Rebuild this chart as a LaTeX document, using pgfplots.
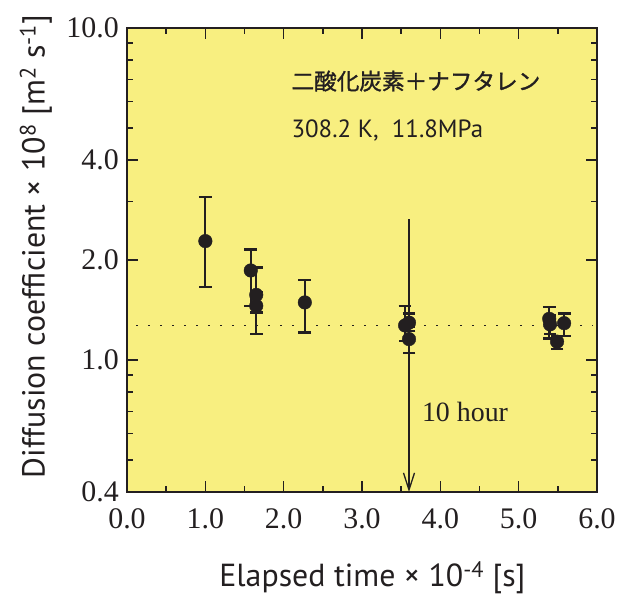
\documentclass[border=0pt]{standalone}
\usepackage{fontspec}
\setmainfont{Liberation Serif}
\newfontfamily\labelfont{PT Sans}
\newfontfamily\jpfont[FakeBold=1.2]{Noto Sans CJK JP}
\usepackage{pgfplots}
\pgfplotsset{compat=1.18}
\usetikzlibrary{arrows.meta}
\definecolor{bgyellow}{RGB}{248,239,128}
\definecolor{ink}{RGB}{35,31,32}

\pgfplotstableread{
x     y      ep     em
1.00  2.28   0.81   0.625
1.58  1.86   0.29   0.405
1.65  1.57   0.33   0.18
1.65  1.455  0.145  0.255
2.27  1.49   0.25   0.28
3.55  1.27   0.18   0.13
3.60  1.295  0.085  0.075
3.60  1.155  0.105  0.105
5.39  1.33   0.11   0.17
5.40  1.28   0.08   0.08
5.49  1.135  0.045  0.055
5.58  1.29   0.09   0.11
}\datatable

\begin{document}
\begin{tikzpicture}
\begin{axis}[
  scale only axis, width=470bp, height=464bp,
  xmin=0, xmax=6, ymin=0.4, ymax=10, ymode=log,
  axis background/.style={fill=bgyellow},
  axis line style={line width=1.8bp, ink},
  xtick={0,1,2,3,4,5,6},
  xticklabels={0.0,1.0,2.0,3.0,4.0,5.0,6.0},
  minor xtick={0.5,1.5,2.5,3.5,4.5,5.5},
  ytick={0.4,1,2,4,10},
  yticklabels={0.4,1.0,2.0,4.0,10.0},
  minor ytick={0.5,0.6,0.7,0.8,0.9,3,5,6,7,8,9},
  tick align=inside,
  major tick length=11bp, minor tick length=6bp,
  every tick/.style={ink, line width=1.4bp},
  tick label style={font=\fontsize{30}{36}\selectfont, text=ink},
  xticklabel style={anchor=base, yshift=-37bp},
  yticklabel style={anchor=east, inner sep=0pt, xshift=-8bp},
  xlabel={Elapsed time × 10\textsuperscript{-4} [s]},
  xlabel style={font=\labelfont\fontsize{32}{38}\selectfont, text=ink, at={(axis description cs:0.522,-0.204)}, anchor=base},
  ylabel={Diffusion coefficient × 10\textsuperscript{8} [m\textsuperscript{2} s\textsuperscript{-1}]},
  ylabel style={font=\labelfont\fontsize{32}{38}\selectfont, text=ink, at={(axis description cs:-0.194,0.529)}, anchor=center},
  clip=false,
]
\addplot[ink, line width=1.8bp, dash pattern=on 1.8bp off 10.2bp] coordinates {(0.12,1.27) (5.95,1.27)};
\addplot[ink, line width=1.3bp, -{Straight Barb[length=17bp,width=11bp,line width=1.3bp]}] coordinates {(3.6,2.65) (3.6,0.4)};
\addplot[only marks, mark=*, mark size=6.8bp, ink, mark options={fill=ink, draw=ink},
  error bars/.cd, y dir=both, y explicit,
  error bar style={line width=2.2bp, ink},
  error mark options={rotate=90, mark size=6.4bp, line width=2.2bp, ink}]
  table[x=x, y=y, y error plus=ep, y error minus=em] {\datatable};
\node[anchor=west, font=\jpfont\fontsize{22.7}{27}\selectfont, text=ink] at (axis cs:2.056,6.92) {二酸化炭素＋ナフタレン};
\node[anchor=west, font=\labelfont\fontsize{25}{30}\selectfont, text=ink] at (axis cs:2.056,4.9) {308.2 K,\ \ 11.8MPa};
\node[anchor=west, font=\fontsize{28}{34}\selectfont, text=ink, inner sep=0pt] at (axis cs:3.764,0.699) {10 hour};
\end{axis}
\path ([shift={(-127bp,-100bp)}]current axis.south west) rectangle ([shift={(26bp,28bp)}]current axis.north east);
\end{tikzpicture}
\end{document}
